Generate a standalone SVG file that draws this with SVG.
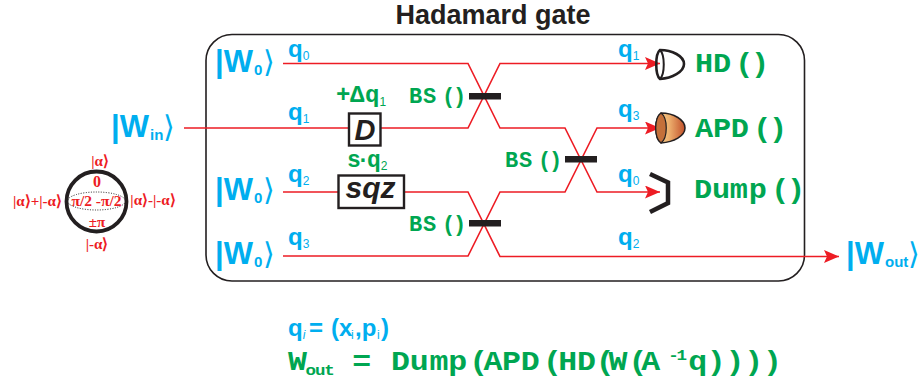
<svg xmlns="http://www.w3.org/2000/svg" width="921" height="386" viewBox="0 0 921 386">
<style>
.w{font-family:"Liberation Sans",Arial,sans-serif;font-weight:700;fill:#00aeef}
.big{font-size:31px}
.bigs{font-size:15px}
.q{font-size:24px}
.qs{font-size:12px;font-weight:400}
.ang{font-family:"DejaVu Sans",sans-serif;font-weight:400;font-size:30px}
.g{font-family:"Liberation Mono",monospace;font-weight:700;fill:#00a651}
.gl{font-size:22px}
.gh{font-size:27px}
.r{font-family:"Liberation Serif",serif;font-weight:700;fill:#ed1c24;font-size:15px;text-anchor:middle}
.line{fill:none;stroke:#ed1c24;stroke-width:1.6}
.bar{fill:#231f20}
.box{fill:#fff;stroke:#231f20;stroke-width:2.4}
.bt{font-family:"Liberation Sans",Arial,sans-serif;font-weight:700;font-style:italic;fill:#231f20;text-anchor:middle}
</style>
<defs>
<marker id="arr" markerWidth="16" markerHeight="14" refX="15" refY="6.5" orient="auto" markerUnits="userSpaceOnUse"><path d="M0 0L15 6.500L0 13L3 6.500Z" fill="#ed1c24"/></marker>
<linearGradient id="apd" x1="0" x2="1" y1="0" y2="0"><stop offset="0" stop-color="#fbd99a"/><stop offset=".45" stop-color="#eeb16f"/><stop offset="1" stop-color="#c1502a"/></linearGradient>
</defs>
<rect id="frame" x="206" y="34.500" width="598.500" height="246.500" rx="26" fill="none" stroke="#231f20" stroke-width="1.600"/>
<text id="title" x="493" y="24" text-anchor="middle" font-family="Liberation Sans,Arial,sans-serif" font-weight="700" font-size="27" fill="#231f20">Hadamard gate</text>
<g id="connectors">
<path class="line" d="M283 63.500H468L500 128H565L597 192H660" marker-end="url(#arr)"/>
<path class="line" d="M184 128H468L500 63.500H660" marker-end="url(#arr)"/>
<path class="line" d="M283 192H468L500 256.500H839" marker-end="url(#arr)"/>
<path class="line" d="M283 256H468L500 192H565L597 128H660" marker-end="url(#arr)"/>
</g>
<g id="bs1"><rect class="bar" x="469" y="93" width="32" height="6.500"/><text class="g gl" x="409 423 442 453" y="103">BS()</text></g>
<g id="bs2"><rect class="bar" x="565" y="156" width="32" height="6.500"/><text class="g gl" x="505 519 538 549" y="167">BS()</text></g>
<g id="bs3"><rect class="bar" x="469" y="220" width="32" height="6.500"/><text class="g gl" x="409 423 442 453" y="231">BS()</text></g>
<g id="D"><rect class="box" x="349" y="113.500" width="31.500" height="32"/><text class="bt" x="365" y="140" font-size="29">D</text><text class="g" x="336 350 365" y="102" font-size="24">+Δq<tspan font-size="12" dy="4" font-family="Liberation Sans,sans-serif" font-weight="400">1</tspan></text></g>
<g id="sqz"><rect class="box" x="338.500" y="175.500" width="65.500" height="32.500"/><text class="bt" x="370.500" y="198" font-size="30">sqz</text><text class="g" x="347 356 367" y="167" font-size="23">s·q<tspan font-size="12" dy="3" font-family="Liberation Sans,sans-serif" font-weight="400">2</tspan></text></g>
<g id="HD"><path d="M660 50C672 50 684 56 684 64C684 72 672 78 660 79C655 75 655 54 660 50Z" fill="#fff" fill-opacity="0" stroke="#231f20" stroke-width="2.600"/><path d="M660 50C665 55 665 74 660 79" fill="none" stroke="#231f20" stroke-width="2"/><text class="g gh" transform="translate(695 72) scale(1.12 1)" x="0 16 36 50" y="0">HD()</text></g>
<g id="APD"><path d="M661 113C674 113 685 120 685 128C685 136 674 142 661 143C654 138 654 118 661 113Z" fill="url(#apd)" stroke="#231f20" stroke-width="1.500"/><path d="M661 113C668 118 668 138 661 143C654 138 654 118 661 113Z" fill="#c4703a" stroke="#231f20" stroke-width="1.200"/><text class="g gh" transform="translate(695 137) scale(1.12 1)" x="0 16 32 52 66" y="0">APD()</text></g>
<g id="Dump"><path d="M650 174L668 182.500V203L650 212" fill="none" stroke="#231f20" stroke-width="4.500"/><text class="g gh" transform="translate(694 198) scale(1.12 1)" x="0 16 32 49 69 83" y="0">Dump()</text></g>
<g id="w0a"><text class="w big" x="215" y="72">|W<tspan class="bigs" dy="3" x="254">0</tspan><tspan class="ang" dy="-3" x="263">⟩</tspan></text></g>
<g id="w0b"><text class="w big" x="215" y="200">|W<tspan class="bigs" dy="3" x="254">0</tspan><tspan class="ang" dy="-3" x="263">⟩</tspan></text></g>
<g id="w0c"><text class="w big" x="215" y="263.500">|W<tspan class="bigs" dy="3" x="254">0</tspan><tspan class="ang" dy="-3" x="263">⟩</tspan></text></g>
<g id="win"><text class="w big" x="111" y="137">|W<tspan class="bigs" dy="3" x="150">in</tspan><tspan class="ang" dy="-3" x="163">⟩</tspan></text></g>
<g id="wout"><text class="w big" x="846" y="264">|W<tspan class="bigs" dy="3" x="885">out</tspan><tspan class="ang" dy="-3" x="908">⟩</tspan></text></g>
<g id="labels">
<text class="w q" x="288" y="57">q<tspan class="qs" dy="3">0</tspan></text>
<text class="w q" x="288" y="120">q<tspan class="qs" dy="3">1</tspan></text>
<text class="w q" x="288" y="182">q<tspan class="qs" dy="3">2</tspan></text>
<text class="w q" x="288" y="245">q<tspan class="qs" dy="3">3</tspan></text>
<text class="w q" x="618" y="57">q<tspan class="qs" dy="3">1</tspan></text>
<text class="w q" x="618" y="117">q<tspan class="qs" dy="3">3</tspan></text>
<text class="w q" x="618" y="182">q<tspan class="qs" dy="3">0</tspan></text>
<text class="w q" x="618" y="245">q<tspan class="qs" dy="3">2</tspan></text>
</g>
<g id="state">
<circle cx="96.500" cy="201.500" r="30" fill="none" stroke="#231f20" stroke-width="3.800"/>
<ellipse cx="96.500" cy="201" rx="29" ry="9" fill="none" stroke="#231f20" stroke-width="1" stroke-dasharray="1 1.500"/>
<text class="r" x="100" y="166">|α⟩</text>
<text class="r" x="97" y="186.500" style="font-size:16px">0</text>
<text class="r" x="37.500" y="206">|α⟩+|-α⟩</text>
<text class="r" x="96.500" y="206" style="font-size:15.500px">π/2 -π/2</text>
<text class="r" x="153" y="205">|α⟩-|-α⟩</text>
<text class="r" x="97" y="226.500">±π</text>
<text class="r" x="97" y="249">|-α⟩</text>
</g>
<g id="formula">
<text class="w" x="288" y="336" font-size="24">q<tspan font-size="12" font-style="italic" font-weight="400" dy="3">i</tspan><tspan dy="-3" x="309">=</tspan><tspan x="331">(x</tspan><tspan font-size="12" font-weight="400" dy="3" x="351">i</tspan><tspan dy="-3" x="355">,p</tspan><tspan font-size="12" font-weight="400" dy="3" x="377">i</tspan><tspan dy="-3" x="381">)</tspan></text>
<text class="g" transform="translate(288 370) scale(1.17 1)" y="0" font-size="27"><tspan x="0">W</tspan><tspan font-size="15" dy="5" x="15 23 31">out</tspan><tspan dy="-5" x="55">=</tspan><tspan x="88 104 121 137 155 167 183 199 218 231 247 263 274 291 302">Dump(APD(HD(W(A</tspan><tspan font-size="15" dy="-10" x="325 332">-1</tspan><tspan dy="10" x="342 358 374 390 406">q))))</tspan></text>
</g>
</svg>
